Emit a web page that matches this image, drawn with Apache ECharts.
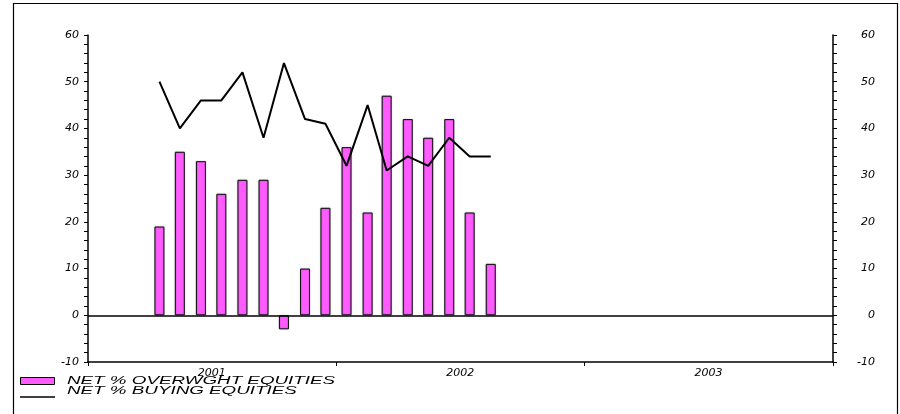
<!DOCTYPE html>
<html>
<head>
<meta charset="utf-8">
<script src="https://cdn.jsdelivr.net/npm/echarts@6/dist/echarts.min.js"></script>
<style>
  html, body { margin: 0; padding: 0; background: #fff; }
  #chart { width: 900px; height: 414px; }
</style>
</head>
<body>
<div id="chart"></div>
<script>
// Monthly survey readings (plotted mid-month)
const months = ['2001-04','2001-05','2001-06','2001-07','2001-08','2001-09','2001-10','2001-11','2001-12',
                '2002-01','2002-02','2002-03','2002-04','2002-05','2002-06','2002-07','2002-08'];
const overweight = [19, 35, 33, 26, 29, 29, -3, 10, 23, 36, 22, 47, 42, 38, 42, 22, 11];
const buying     = [50, 40, 46, 46, 52, 38, 54, 42, 41, 32, 45, 31, 34, 32, 38, 34, 34];

const seriesNames = ['NET % OVERWGHT EQUITIES', 'NET % BUYING EQUITIES'];
const years = ['2001', '2002', '2003'];
const yMin = -10, yMax = 60, yStep = 10;

// x positions are millisecond timestamps on a linear value axis
const midMonth = s => { const [y, m] = s.split('-').map(Number); return new Date(y, m - 1, 16).getTime(); };
const yearStart = y => new Date(Number(y), 0, 1).getTime();
const yearMid = y => new Date(Number(y), 6, 2).getTime();

const xMin = yearStart(years[0]);
const xMax = yearStart(Number(years[years.length - 1]) + 1);
const yearTicks = years.map(yearStart).concat([xMax]);

const barData = months.map((m, i) => [midMonth(m), overweight[i]]);
const lineData = months.map((m, i) => [midMonth(m), buying[i]]);

const FONT = '"DejaVu Sans", "Liberation Sans", Arial, sans-serif';
const MAGENTA = '#ff5cff';

const yAxisCommon = {
  type: 'value',
  min: yMin, max: yMax, interval: yStep,
  splitLine: { show: false },
  axisLine: { show: true, lineStyle: { color: '#000', width: 1.5 } },
  axisTick: { show: true, length: 4, lineStyle: { color: '#000', width: 1 } },
  minorTick: { show: true, splitNumber: 5, length: 4, lineStyle: { color: '#000', width: 1 } },
  minorSplitLine: { show: false }
};

const chart = echarts.init(document.getElementById('chart'));
chart.setOption({
  animation: false,
  backgroundColor: '#fff',
  grid: { left: 88, right: 67, top: 35, bottom: 52 },
  xAxis: {
    type: 'value',
    min: xMin, max: xMax,
    position: 'bottom',
    splitLine: { show: false },
    axisLine: { onZero: false, lineStyle: { color: '#000', width: 1.5 } },
    axisTick: { show: true, length: 4, customValues: yearTicks, lineStyle: { color: '#000', width: 1 } },
    axisLabel: {
      customValues: years.map(yearMid),
      formatter: v => String(new Date(v).getFullYear()),
      color: '#000', fontFamily: FONT, fontStyle: 'italic', fontSize: 11,
      margin: 6, hideOverlap: false
    }
  },
  yAxis: [
    Object.assign({}, yAxisCommon, {
      position: 'left',
      axisLabel: { color: '#000', fontFamily: FONT, fontStyle: 'italic', fontSize: 11,
                   margin: 9, padding: [0, 0, 4, 0] }
    }),
    Object.assign({}, yAxisCommon, {
      position: 'right',
      axisLabel: { color: '#000', fontFamily: FONT, fontStyle: 'italic', fontSize: 11,
                   margin: 42, align: 'right', padding: [0, 0, 4, 0] }
    })
  ],
  series: [
    {
      name: seriesNames[0],
      type: 'bar',
      yAxisIndex: 0,
      data: barData,
      barWidth: 10,
      barMaxWidth: 12,
      itemStyle: { color: MAGENTA, borderColor: '#111', borderWidth: 1,
                   shadowColor: 'rgba(0,0,0,0.35)', shadowBlur: 1.5 },
      markLine: {
        silent: true,
        symbol: 'none',
        label: { show: false },
        lineStyle: { color: '#000', width: 1.5, type: 'solid' },
        data: [{ yAxis: 0 }]
      },
      z: 2
    },
    {
      name: seriesNames[1],
      type: 'line',
      yAxisIndex: 1,
      data: lineData,
      symbol: 'none',
      lineStyle: { color: '#000', width: 2 },
      z: 3
    }
  ],
  graphic: [
    // outer frame
    { type: 'rect', shape: { x: 13.5, y: 3.5, width: 884, height: 420 },
      style: { fill: null, stroke: '#000', lineWidth: 1.2 }, silent: true },
    // legend: bar swatch
    { type: 'rect', shape: { x: 20.5, y: 377.5, width: 34, height: 7 },
      style: { fill: MAGENTA, stroke: '#000', lineWidth: 1 } },
    { type: 'text', x: 67, y: 381, scaleX: 1.88,
      style: { text: seriesNames[0], font: 'italic 10px "Liberation Sans", Arial, sans-serif',
               fill: '#000', verticalAlign: 'middle' } },
    // legend: line swatch
    { type: 'line', shape: { x1: 20, y1: 397, x2: 55, y2: 397 },
      style: { stroke: '#000', lineWidth: 1.5 } },
    { type: 'text', x: 67, y: 391, scaleX: 1.88,
      style: { text: seriesNames[1], font: 'italic 10px "Liberation Sans", Arial, sans-serif',
               fill: '#000', verticalAlign: 'middle' } }
  ]
});
</script>
</body>
</html>
